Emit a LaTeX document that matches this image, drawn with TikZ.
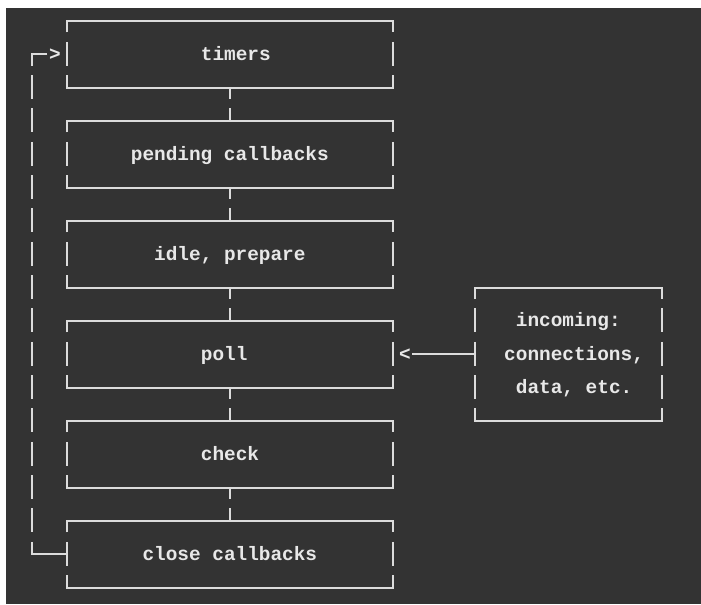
\documentclass[tikz,border=0pt]{standalone}
\usepackage{fontspec}
\setmonofont{Liberation Mono}
\definecolor{bgc}{HTML}{333333}
\definecolor{fgc}{HTML}{DCDCDC}
\definecolor{txtc}{HTML}{E8E8E8}
\tikzset{
  ln/.style={draw=fgc, line width=2.2pt, line join=miter},
  lbl/.style={anchor=base west, inner sep=0pt, outer sep=0pt, text=txtc,
    font=\ttfamily\bfseries\fontsize{19.4}{20}\selectfont}
}
\newcommand{\vseg}[2]{\draw[ln] (#1,#2-0.375) -- (#1,#2+0.345);}
\newcommand{\asciibox}[4]{%
  \draw[ln] (#1,#2+0.345) -- (#1,#2) -- (#3,#2) -- (#3,#2+0.345);
  \draw[ln] (#1,#4-0.375) -- (#1,#4) -- (#3,#4) -- (#3,#4-0.375);
  \pgfmathtruncatemacro\rowa{#2+1}\pgfmathtruncatemacro\rowb{#4-1}%
  \foreach \rr in {\rowa,...,\rowb} {\vseg{#1}{\rr}\vseg{#3}{\rr}}%
}
\begin{document}
\begin{tikzpicture}[x=11.667pt, y=-33.333pt]
\useasboundingbox (-2.717,-0.63) rectangle (57.367,17.52);
\fill[white] (-2.717,-0.63) rectangle (57.367,17.52);
\fill[bgc] (-2.203,-0.39) rectangle (57.367,17.49);

% main boxes (cols 3..31)
\asciibox{3}{0}{31}{2}
\asciibox{3}{3}{31}{5}
\asciibox{3}{6}{31}{8}
\asciibox{3}{9}{31}{11}
\asciibox{3}{12}{31}{14}
\asciibox{3}{15}{31}{17}
% incoming box (cols 38..54)
\asciibox{38}{8}{54}{12}

% connectors between boxes
\foreach \r in {2,5,8,11,14} {
  \draw[ln] (17,\r) -- (17,\r+0.345);
  \draw[ln] (17,\r+1-0.375) -- (17,\r+1);
}

% labels
\node[lbl] (timers) at (14.5,1.18) {timers};
\node[lbl] (pending) at (8.5,4.18) {pending callbacks};
\node[lbl] (idle) at (10.5,7.18) {idle, prepare};
\node[lbl] (poll) at (14.5,10.18) {poll};
\node[lbl] (check) at (14.5,13.18) {check};
\node[lbl] (close) at (9.5,16.18) {close callbacks};
\node[lbl] (inc1) at (41.5,9.18) {incoming:};
\node[lbl] (inc2) at (40.5,10.18) {connections,};
\node[lbl] (inc3) at (41.5,11.18) {data, etc.};

% arrow from incoming to poll
\node[lbl] (ltip) at (31.5,10.18) {<};
\coordinate (incL) at (38,10);
\draw[ln] (incL) -- (32.6,10);

% loop back from close callbacks to timers
\node[lbl] (rtip) at (1.5,1.18) {>};
\coordinate (loopTop) at (0,1);
\coordinate (loopBot) at (0,16);
\draw[ln] (1.35,1) -- (loopTop) -- (0,1.345);
\foreach \r in {2,...,15} {\vseg{0}{\r}}
\draw[ln] (0,16-0.375) -- (loopBot) -- (3,16);
\end{tikzpicture}
\end{document}
